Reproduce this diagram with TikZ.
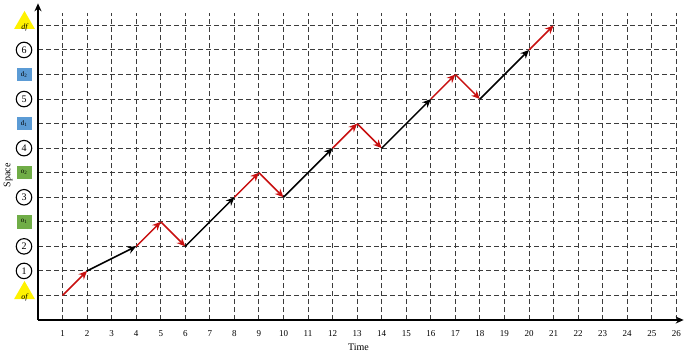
\documentclass[tikz,border=0pt]{standalone}
\usepackage{fontspec}
\setmainfont{Liberation Serif}
\usetikzlibrary{arrows.meta,shapes.geometric}
\definecolor{arrred}{RGB}{200,16,16}
\definecolor{sqgreen}{RGB}{112,173,71}
\definecolor{sqblue}{RGB}{91,155,213}
\definecolor{gridgray}{RGB}{60,60,60}
\begin{document}
\begin{tikzpicture}[x=24.55pt,y=24.55pt,
  gridline/.style={draw=gridgray, line width=1pt, dash pattern=on 5pt off 3pt},
  axisline/.style={draw=black, line width=1.5pt, -{Stealth[length=8pt,width=7pt]}},
  redarr/.style={draw=arrred, line width=1.5pt, -{Stealth[length=8.5pt,width=7.5pt]}},
  blkarr/.style={draw=black, line width=1.5pt, -{Stealth[length=8.5pt,width=7.5pt]}},
  circlab/.style={circle, draw=black, line width=1.1pt, minimum size=15.5pt, inner sep=0pt, font=\fontsize{10}{10}\selectfont},
  gsq/.style={rectangle, fill=sqgreen, minimum width=15pt, minimum height=13.5pt, inner sep=0pt, font=\fontsize{7}{7}\selectfont},
  bsq/.style={rectangle, fill=sqblue, minimum width=15pt, minimum height=13.5pt, inner sep=0pt, font=\fontsize{7}{7}\selectfont},
  tri/.style={regular polygon, regular polygon sides=3, fill=yellow, minimum size=24pt, inner sep=0pt},
  trilab/.style={font=\fontsize{8}{8}\selectfont\itshape, inner sep=0pt},
  ticklab/.style={font=\fontsize{9}{9}\selectfont, inner sep=0pt},
  axlab/.style={font=\fontsize{10}{10}\selectfont, inner sep=0pt}
]
\useasboundingbox (-1.548,-1.426) rectangle (26.354,13.035);
% grid
\foreach \i in {1,...,26} {
  \draw[gridline] (\i,0) -- (\i,12.5);
  \node[ticklab] (t\i) at (\i,-0.57) {\i};
}
\foreach \j in {1,...,12} {
  \draw[gridline] (0,\j) -- (26,\j);
}
% axes
\coordinate (O) at (0,0);
\coordinate (xend) at (26.3,0);
\coordinate (yend) at (0,12.9);
\draw[axisline] (O) -- (xend);
\draw[axisline] (O) -- (yend);
\node[axlab] (timelab) at (13.05,-1.1) {Time};
\node[axlab, rotate=90] (spacelab) at (-1.22,5.9) {Space};
% y labels
\node[tri] (of) at (-0.55,1.1) {};
\node[trilab] (oft) at (-0.55,0.92) {of};
\node[circlab] (c1) at (-0.57,2) {1};
\node[circlab] (c2) at (-0.57,3) {2};
\node[gsq] (o1) at (-0.57,4) {o\textsubscript{1}};
\node[circlab] (c3) at (-0.57,5) {3};
\node[gsq] (o2) at (-0.57,6) {o\textsubscript{2}};
\node[circlab] (c4) at (-0.57,7) {4};
\node[bsq] (d1) at (-0.57,8) {d\textsubscript{1}};
\node[circlab] (c5) at (-0.57,9) {5};
\node[bsq] (d2) at (-0.57,10) {d\textsubscript{2}};
\node[circlab] (c6) at (-0.57,11) {6};
\node[tri] (df) at (-0.55,12.1) {};
\node[trilab] (dft) at (-0.55,11.92) {df};
% path points
\coordinate (p1) at (1,1);
\coordinate (p2) at (2,2);
\coordinate (p3) at (4,3);
\coordinate (p4) at (5,4);
\coordinate (p5) at (6,3);
\coordinate (p6) at (8,5);
\coordinate (p7) at (9,6);
\coordinate (p8) at (10,5);
\coordinate (p9) at (12,7);
\coordinate (p10) at (13,8);
\coordinate (p11) at (14,7);
\coordinate (p12) at (16,9);
\coordinate (p13) at (17,10);
\coordinate (p14) at (18,9);
\coordinate (p15) at (20,11);
\coordinate (p16) at (21,12);
% arrows
\draw[redarr] (p1) -- (p2);
\draw[blkarr] (p2) -- (p3);
\draw[redarr] (p3) -- (p4);
\draw[redarr] (p4) -- (p5);
\draw[blkarr] (p5) -- (p6);
\draw[redarr] (p6) -- (p7);
\draw[redarr] (p7) -- (p8);
\draw[blkarr] (p8) -- (p9);
\draw[redarr] (p9) -- (p10);
\draw[redarr] (p10) -- (p11);
\draw[blkarr] (p11) -- (p12);
\draw[redarr] (p12) -- (p13);
\draw[redarr] (p13) -- (p14);
\draw[blkarr] (p14) -- (p15);
\draw[redarr] (p15) -- (p16);
\end{tikzpicture}
\end{document}
